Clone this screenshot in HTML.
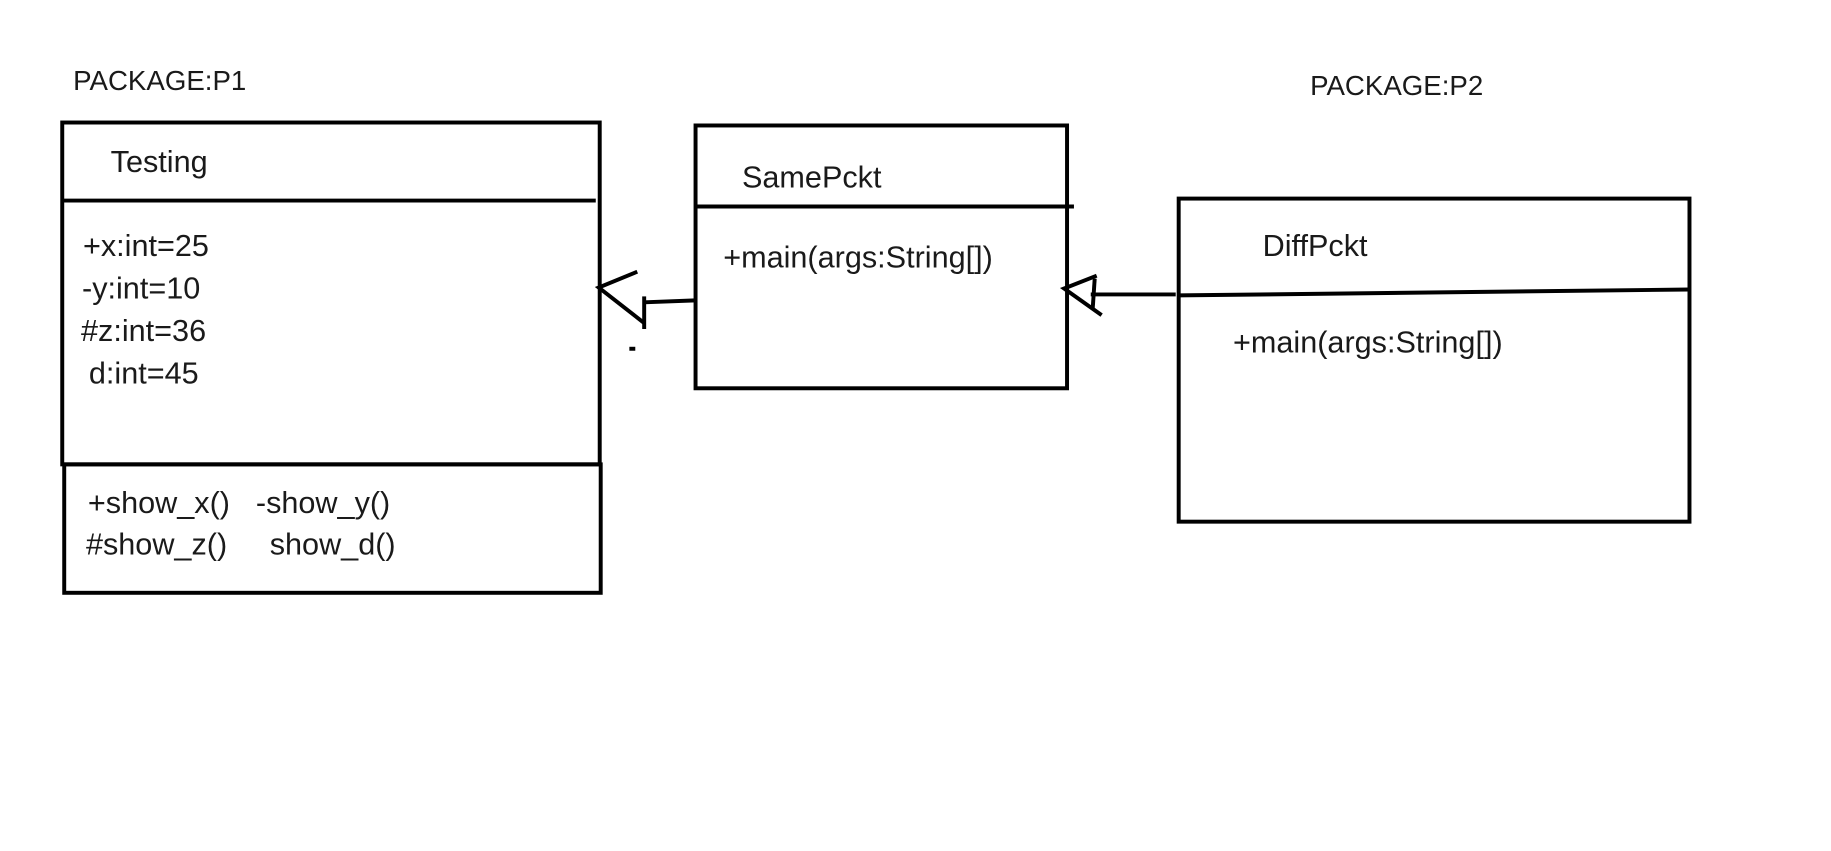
<!DOCTYPE html>
<html><head><style>
html,body{margin:0;padding:0;background:#fff;}
svg text{font-family:"Liberation Sans",sans-serif;fill:#1a1a1a;}
</style></head><body>
<svg width="1831" height="846" xmlns="http://www.w3.org/2000/svg">
<g transform="scale(0.988)">
<g font-size="28">
<text x="74" y="91">PACKAGE:P1</text>
<text x="1326" y="96">PACKAGE:P2</text>
</g>
<g fill="none" stroke="#000" stroke-width="4">
<rect x="63" y="124" width="544" height="346"/>
<line x1="63" y1="203" x2="603" y2="203"/>
<rect x="65" y="470" width="543" height="130"/>
<rect x="704" y="127" width="376" height="266"/>
<line x1="704" y1="209" x2="1087" y2="209"/>
<rect x="1193" y="201" width="517" height="327"/>
<line x1="1193" y1="299" x2="1710" y2="293"/>
<line x1="704" y1="304" x2="652" y2="306"/>
<polyline points="645,275 606,291 652,327"/>
<line x1="652" y1="300" x2="652" y2="333"/>
<line x1="1190" y1="298" x2="1104" y2="298"/>
<polyline points="1110,279 1077,292 1115,319"/>
<line x1="1108" y1="282" x2="1106" y2="312"/>
</g>
<rect x="637" y="351" width="6" height="4" fill="#000"/>
<g font-size="31">
<text x="112" y="174">Testing</text>
<text x="84" y="259">+x:int=25</text>
<text x="83" y="302">-y:int=10</text>
<text x="82" y="345">#z:int=36</text>
<text x="90" y="388">d:int=45</text>
<text x="89" y="519">+show_x()</text>
<text x="259" y="519">-show_y()</text>
<text x="87" y="561">#show_z()</text>
<text x="273" y="561">show_d()</text>
<text x="751" y="190">SamePckt</text>
<text x="732" y="271">+main(args:String[])</text>
<text x="1278" y="259">DiffPckt</text>
<text x="1248" y="357">+main(args:String[])</text>
</g>
</g>
</svg>
</body></html>
